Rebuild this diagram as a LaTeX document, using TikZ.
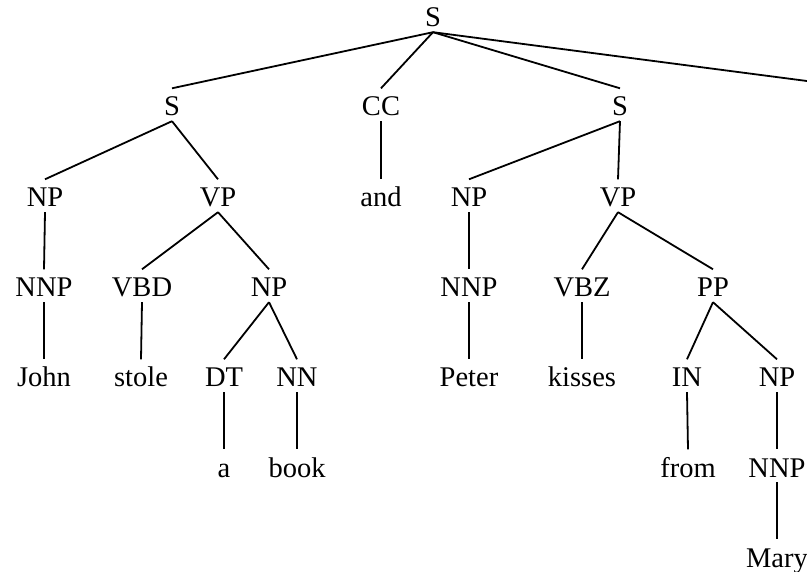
\documentclass[tikz,border=0pt]{standalone}
\usepackage{fontspec}
\setmainfont{Liberation Serif}
\begin{document}
\begin{tikzpicture}[x=1pt,y=-1pt,
  tn/.style={anchor=base,inner xsep=1pt,inner ysep=0pt,
    font=\fontsize{28.5}{32}\selectfont,text height=27.5pt,text depth=5pt},
  br/.style={line width=1.8pt}]
\useasboundingbox (0,0) rectangle (807,572);
\clip (0,0) rectangle (807,572);
% level 0
\node[tn] (s0) at (433,27) {S};
% level 1
\node[tn] (s1) at (172,116) {S};
\node[tn] (cc) at (381,116) {CC};
\node[tn] (s2) at (620,116) {S};
\coordinate (s3) at (872,89.5);
% level 2
\node[tn] (np1) at (45,207) {NP};
\node[tn] (vp1) at (218,207) {VP};
\node[tn] (and) at (381,207) {and};
\node[tn] (np2) at (469,207) {NP};
\node[tn] (vp2) at (618,207) {VP};
% level 3
\node[tn] (nnp1) at (44,297) {NNP};
\node[tn] (vbd) at (142,297) {VBD};
\node[tn] (np3) at (269,297) {NP};
\node[tn] (nnp2) at (469,297) {NNP};
\node[tn] (vbz) at (582,297) {VBZ};
\node[tn] (pp) at (713,297) {PP};
% level 4
\node[tn] (john) at (44,387) {John};
\node[tn] (stole) at (141,387) {stole};
\node[tn] (dt) at (224,387) {DT};
\node[tn] (nn) at (297,387) {NN};
\node[tn] (peter) at (469,387) {Peter};
\node[tn] (kisses) at (582,387) {kisses};
\node[tn] (in) at (687,387) {IN};
\node[tn] (np4) at (777,387) {NP};
% level 5
\node[tn] (a) at (224,477) {a};
\node[tn] (book) at (297,477) {book};
\node[tn] (from) at (688,477) {from};
\node[tn] (nnp3) at (777,477) {NNP};
% level 6
\node[tn] (mary) at (777,567) {Mary};
% branches
\foreach \p/\c in {s0/s1,s0/cc,s0/s2,
  s1/np1,s1/vp1,cc/and,s2/np2,s2/vp2,
  np1/nnp1,vp1/vbd,vp1/np3,np2/nnp2,vp2/vbz,vp2/pp,
  nnp1/john,vbd/stole,np3/dt,np3/nn,nnp2/peter,vbz/kisses,pp/in,pp/np4,
  dt/a,nn/book,in/from,np4/nnp3,nnp3/mary}
  \draw[br] (\p.south) -- (\c.north);
\draw[br] (s0.south) -- (s3);
\end{tikzpicture}
\end{document}
